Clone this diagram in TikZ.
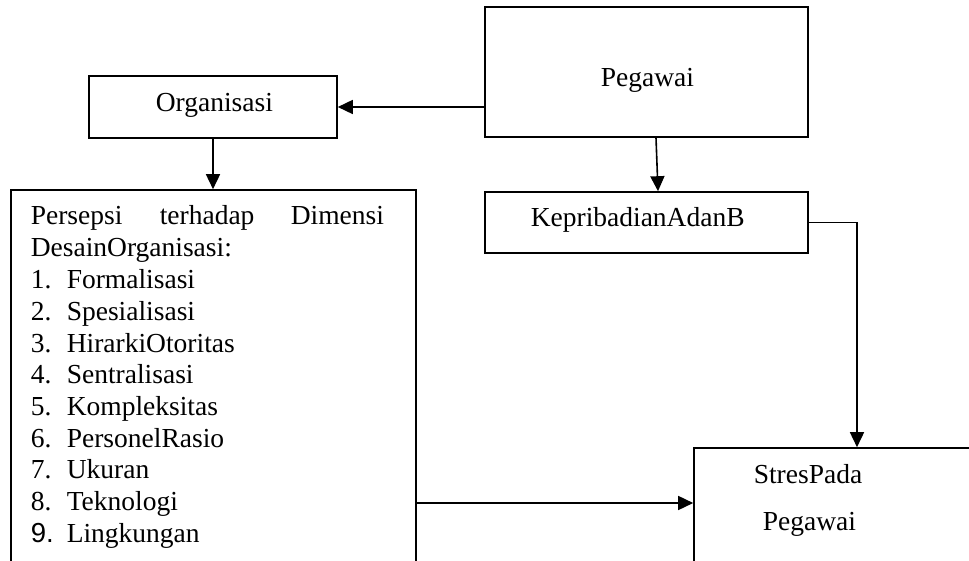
\documentclass[tikz,border=0pt]{standalone}
\usepackage{fontspec}
\setmainfont{Liberation Serif}
\newfontfamily\sansnum{Liberation Sans}
\usetikzlibrary{arrows.meta}
\begin{document}
\begin{tikzpicture}[x=1pt,y=-1pt,line width=1.6pt,
  box/.style={draw,rectangle,inner sep=0pt},
  txt/.style={anchor=base west,inner sep=0pt,font=\fontsize{27.5}{32}\selectfont},
  arr/.style={-{Triangle[length=15pt,width=14pt]}}]
\useasboundingbox (0,0) rectangle (969,561);
\clip (0,0) rectangle (969,561);
% boxes
\node[box,minimum width=323pt,minimum height=130pt] (peg) at (646.5,72) {};
\node[box,minimum width=248pt,minimum height=62pt] (org) at (213,107) {};
\node[box,minimum width=405pt,minimum height=430pt] (pers) at (213.5,405) {};
\node[box,minimum width=323pt,minimum height=61pt] (kep) at (646.5,222.5) {};
\node[box,minimum width=316pt,minimum height=172pt] (stres) at (852,534) {};
% texts
\node[txt] (tpeg) at (600,87) {Pegawai};
\node[txt] (torg) at (155,112) {Organisasi};
\node[txt] (tkep) at (530,227) {KepribadianAdanB};
\node[txt] (tst1) at (753,483) {StresPada};
\node[txt] (tst2) at (762,530) {Pegawai};
\node[txt] (p1a) at (30,225) {Persepsi};
\node[txt] (p1b) at (159,225) {terhadap};
\node[txt] (p1c) at (290,225) {Dimensi};
\node[txt] (p2) at (30,257) {DesainOrganisasi:};
\node[txt] (n1) at (30,288.7) {1.};
\node[txt] (n2) at (30,320.4) {2.};
\node[txt] (n3) at (30,352.1) {3.};
\node[txt] (n4) at (30,383.8) {4.};
\node[txt] (n5) at (30,415.5) {5.};
\node[txt] (n6) at (30,447.2) {6.};
\node[txt] (n7) at (30,478.9) {7.};
\node[txt] (n8) at (30,510.6) {8.};
\node[txt] (n9) at (30,542.3) {\sansnum 9.};
\node[txt] (i1) at (66,288.7) {Formalisasi};
\node[txt] (i2) at (66,320.4) {Spesialisasi};
\node[txt] (i3) at (66,352.1) {HirarkiOtoritas};
\node[txt] (i4) at (66,383.8) {Sentralisasi};
\node[txt] (i5) at (66,415.5) {Kompleksitas};
\node[txt] (i6) at (66,447.2) {PersonelRasio};
\node[txt] (i7) at (66,478.9) {Ukuran};
\node[txt] (i8) at (66,510.6) {Teknologi};
\node[txt] (i9) at (66,542.3) {Lingkungan};
% connectors
\coordinate (h) at (0,503);
\draw[arr] (peg.west |- org.east) -- (org.east);
\draw[arr] (org.south) -- (org.south |- pers.north);
\draw[arr] ([xshift=9.5pt]peg.south) -- ([xshift=11.5pt]kep.north);
\draw[arr] (kep.east) -| ([xshift=5pt]stres.north);
\draw[arr] (pers.east |- h) -- (stres.west |- h);
\end{tikzpicture}
\end{document}
